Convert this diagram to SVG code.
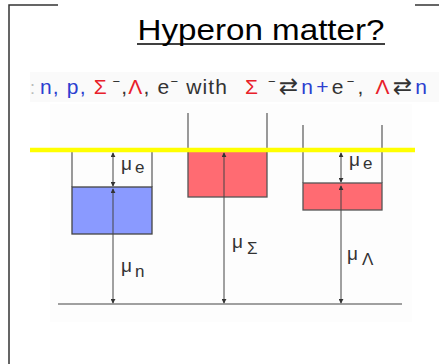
<svg xmlns="http://www.w3.org/2000/svg" width="439" height="364" viewBox="0 0 439 364">
<defs>
<marker id="ah" viewBox="0 0 6 6" refX="5" refY="3" markerWidth="5" markerHeight="5" orient="auto-start-reverse" markerUnits="userSpaceOnUse">
<path d="M0,0 L6,3 L0,6 z" fill="#333"/>
</marker>
</defs>
<style>
text{font-family:"Liberation Sans","DejaVu Sans",sans-serif}
.wall{stroke:#666;stroke-width:1.3;fill:none}
.arr{stroke:#444;stroke-width:1;fill:none;marker-start:url(#ah);marker-end:url(#ah)}
.lbl{font-size:19px;fill:#333}
.sub{font-size:17px}
.blue{fill:#2b3fd0}
.red{fill:#e8202a}
.grey{fill:#333}
</style>
<rect width="439" height="364" fill="#fff"/>
<rect x="30" y="72" width="409" height="30" fill="#fafafa"/>
<rect x="50" y="104" width="362" height="218" fill="#fdfdfd"/>
<g id="frame" stroke="#333" stroke-width="1.5" fill="none">
<path d="M9,364 V5 H58"/>
<path d="M415,5 H439"/>
</g>
<g id="title">
<text x="261" y="40" font-size="29" text-anchor="middle" fill="#000" textLength="247" lengthAdjust="spacingAndGlyphs">Hyperon matter?</text>
<line x1="137" y1="44" x2="385" y2="44" stroke="#000" stroke-width="1.5"/>
</g>
<g id="subtitle">
<text x="30" y="94" font-size="18" fill="#bbb">:</text>
<text x="40" y="94" font-size="21" textLength="187" lengthAdjust="spacing"><tspan class="blue">n, p, </tspan><tspan class="red">Σ</tspan><tspan class="grey" font-size="13" dy="-8"> −</tspan><tspan class="grey" dy="8">,</tspan><tspan class="red">Λ</tspan><tspan class="grey">, e</tspan><tspan class="grey" font-size="13" dy="-8">−</tspan><tspan class="grey" dy="8"> with</tspan></text>
<text x="245" y="94" font-size="21" textLength="182" lengthAdjust="spacing"><tspan class="red">Σ</tspan><tspan class="grey" font-size="13" dy="-8"> −</tspan><tspan class="grey" dy="8" font-family="DejaVu Sans" font-size="23">⇄</tspan><tspan class="blue">n+</tspan><tspan class="grey">e</tspan><tspan class="grey" font-size="13" dy="-8">−</tspan><tspan class="grey" dy="8">, </tspan><tspan class="red">Λ</tspan><tspan class="grey" font-family="DejaVu Sans" font-size="23">⇄</tspan><tspan class="blue">n</tspan></text>
</g>
<g id="well-n">
<path class="wall" d="M72,150 V187 M152,150 V187"/>
<rect x="72" y="187" width="80" height="47" fill="#8a9aff" stroke="#444" stroke-width="1.3"/>
</g>
<g id="well-sigma">
<path class="wall" d="M188,113 V150 M267,113 V150"/>
<rect x="188" y="150" width="79" height="47" fill="#ff6b72" stroke="#555" stroke-width="1.3"/>
</g>
<g id="well-lambda">
<path class="wall" d="M303,125 V183 M382,125 V183"/>
<rect x="303" y="183" width="79" height="27" fill="#ff6b72" stroke="#555" stroke-width="1.3"/>
</g>
<g id="fermi-line">
<line x1="30" y1="150" x2="415" y2="150" stroke="#ffff00" stroke-width="4.5"/>
</g>
<g id="baseline">
<line x1="58" y1="304" x2="402" y2="304" stroke="#444" stroke-width="1.2"/>
</g>
<g id="connectors">
<line class="arr" x1="113" y1="153" x2="113" y2="186"/>
<line class="arr" x1="113" y1="189" x2="113" y2="303"/>
<line class="arr" x1="224" y1="153" x2="224" y2="303"/>
<line class="arr" x1="341" y1="153" x2="341" y2="182"/>
<line class="arr" x1="341" y1="186" x2="341" y2="303"/>
</g>
<g id="labels">
<text class="lbl" x="121" y="170">μ<tspan class="sub" dx="3" dy="3">e</tspan></text>
<text class="lbl" x="121" y="272">μ<tspan class="sub" dx="3" dy="5">n</tspan></text>
<text class="lbl" x="232" y="248">μ<tspan class="sub" dx="4" dy="6">Σ</tspan></text>
<text class="lbl" x="349" y="166">μ<tspan class="sub" dx="3" dy="3">e</tspan></text>
<text class="lbl" x="347" y="260">μ<tspan class="sub" dx="4" dy="5">Λ</tspan></text>
</g>
</svg>
